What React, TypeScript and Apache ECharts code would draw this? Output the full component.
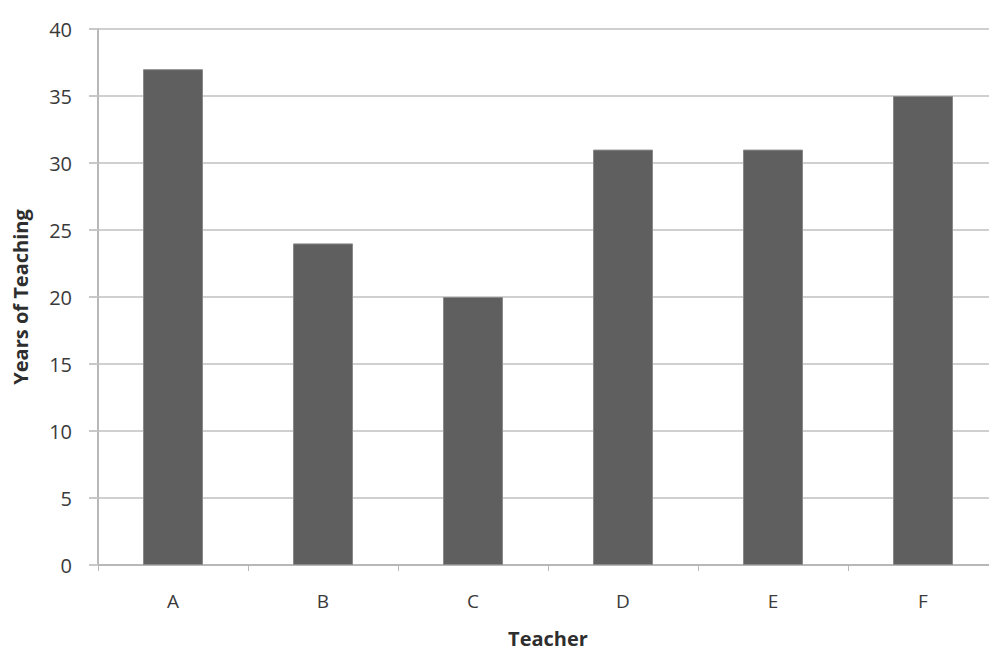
import React, { useEffect, useRef } from "react";
import * as echarts from "echarts";

const categories = ["A", "B", "C", "D", "E", "F"];
const yearsOfTeaching = [37, 24, 20, 31, 31, 35];
const xAxisTitle = "Teacher";
const yAxisTitle = "Years of Teaching";

export default function App() {
  const ref = useRef<HTMLDivElement>(null);
  useEffect(() => {
    if (!ref.current) return;
    const chart = echarts.init(ref.current, null, { renderer: "svg" });
    const font = "'Open Sans', 'Liberation Sans', sans-serif";
    chart.setOption({
      animation: false,
      backgroundColor: "#ffffff",
      grid: {
        left: 98,
        top: 29,
        width: 900,
        height: 536,
        containLabel: false,
        outerBoundsMode: "none",
      },
      xAxis: {
        type: "category",
        data: categories,
        name: xAxisTitle,
        nameLocation: "middle",
        nameGap: 63,
        nameTextStyle: { fontFamily: font, fontSize: 20, fontWeight: "bold", color: "#2e2e2e" },
        axisLine: { show: true, lineStyle: { color: "#b8b8b8", width: 2 } },
        axisTick: { show: true, length: 6, lineStyle: { color: "#b8b8b8" } },
        axisLabel: { fontFamily: font, fontSize: 19, color: "#3a3a3a", margin: 26 },
      },
      yAxis: {
        type: "value",
        min: 0,
        max: 40,
        interval: 5,
        name: yAxisTitle,
        nameLocation: "middle",
        nameGap: 68,
        nameTextStyle: { fontFamily: font, fontSize: 20, fontWeight: "bold", color: "#2e2e2e" },
        axisLine: { show: true, lineStyle: { color: "#b8b8b8", width: 2 } },
        axisTick: { show: true, length: 9, lineStyle: { color: "#c8c8c8", width: 2 } },
        axisLabel: { fontFamily: font, fontSize: 20, color: "#3a3a3a", margin: 26 },
        splitLine: { show: true, lineStyle: { color: "#d0d0d0", width: 2 } },
      },
      series: [
        {
          type: "bar",
          data: yearsOfTeaching,
          barWidth: 60,
          itemStyle: { color: "#5f5f5f", borderColor: "#8a8a8a", borderWidth: 1 },
        },
      ],
    });
    return () => chart.dispose();
  }, []);
  return (
    <div
      ref={ref}
      style={{ position: "absolute", left: 0, top: 0, width: 989, height: 653 }}
    />
  );
}
